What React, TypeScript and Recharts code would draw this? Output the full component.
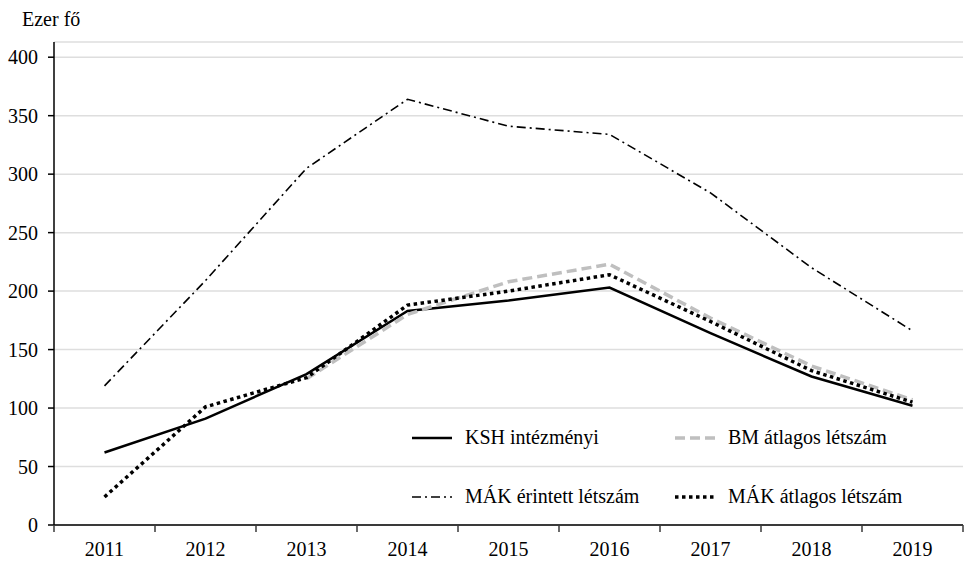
import { LineChart, Line, XAxis, YAxis, CartesianGrid, Legend } from 'recharts';

const years = ['2011', '2012', '2013', '2014', '2015', '2016', '2017', '2018', '2019'];
const kshIntezmenyi = [62, 91, 129, 183, 192, 203, 164, 127, 102];
const bmAtlagos = [null, null, 125, 180, 208, 223, 177, 136, 107];
const makErintett = [119, 209, 305, 364, 341, 334, 284, 220, 166];
const makAtlagos = [24, 101, 126, 188, 200, 214, 174, 132, 105];
const yTicks = [0, 50, 100, 150, 200, 250, 300, 350, 400];

const WIDTH = 969;
const HEIGHT = 561;
const LEFT = 54;
const RIGHT = 6;
const PLOT_W = WIDTH - LEFT - RIGHT;
const HALF_BAND = PLOT_W / years.length / 2;
const FONT = "'Liberation Serif', 'LiberationSerif', 'DejaVu Serif', 'Noto Serif', 'Noto Serif CJK SC', 'Nimbus Roman', 'FreeSerif', serif";

const data = years.map((year, i) => ({
  year,
  ksh: kshIntezmenyi[i],
  bm: bmAtlagos[i],
  erintett: makErintett[i],
  atlagos: makAtlagos[i],
}));

const series = [
  { key: 'ksh', name: 'KSH intézményi', stroke: '#000', width: 2.5, dash: undefined },
  { key: 'bm', name: 'BM átlagos létszám', stroke: '#bfbfbf', width: 3.5, dash: '10 5' },
  { key: 'erintett', name: 'MÁK érintett létszám', stroke: '#000', width: 1.6, dash: '9 4 2 4' },
  { key: 'atlagos', name: 'MÁK átlagos létszám', stroke: '#000', width: 3.5, dash: '3.5 3.5' },
];

function XTick(props: any) {
  const { x, y, payload, index } = props;
  const last = index === years.length - 1;
  return (
    <g>
      <line x1={x - HALF_BAND} x2={x - HALF_BAND} y1={y} y2={y + 7} stroke="#3a3a3a" strokeWidth={1.5} />
      {last && <line x1={x + HALF_BAND} x2={x + HALF_BAND} y1={y} y2={y + 7} stroke="#3a3a3a" strokeWidth={1.5} />}
      <text x={x} y={y + 31} textAnchor="middle" fontSize={20} style={{ fontFamily: FONT }} fill="#000">
        {payload.value}
      </text>
    </g>
  );
}

function LegendBox() {
  const order = ['ksh', 'bm', 'erintett', 'atlagos'];
  return (
    <div style={{ display: 'grid', gridTemplateColumns: '263px 300px', rowGap: 36, fontFamily: FONT, fontSize: 20 }}>
      {order.map((k) => {
        const s = series.find((d) => d.key === k)!;
        return (
          <div key={k} style={{ display: 'flex', alignItems: 'center', height: 23, whiteSpace: 'nowrap' }}>
            <svg width={40} height={10} style={{ marginRight: 13 }}>
              <line x1={0} x2={40} y1={5} y2={5} stroke={s.stroke} strokeWidth={s.width} strokeDasharray={s.dash} />
            </svg>
            <span style={{ color: '#000' }}>{s.name}</span>
          </div>
        );
      })}
    </div>
  );
}

export default function App() {
  return (
    <div style={{ position: 'absolute', left: 0, top: 0, width: WIDTH, height: HEIGHT, background: '#fff', fontFamily: FONT }}>
      <div style={{ position: 'absolute', left: 22, top: 8, fontFamily: FONT, fontSize: 20, color: '#000' }}>Ezer fő</div>
      <LineChart width={WIDTH} height={HEIGHT} data={data} margin={{ top: 42, right: RIGHT, left: 0, bottom: 0 }} style={{ fontFamily: FONT }}>
        <CartesianGrid vertical={false} stroke="#dedede" strokeWidth={1.5} />
        <XAxis
          dataKey="year"
          height={36}
          padding={{ left: HALF_BAND, right: HALF_BAND }}
          tickLine={false}
          tickSize={0}
          tickMargin={0}
          interval={0}
          axisLine={{ stroke: '#3a3a3a', strokeWidth: 2 }}
          tick={<XTick />}
        />
        <YAxis
          width={LEFT}
          domain={[0, 413]}
          ticks={yTicks}
          interval={0}
          tickSize={6}
          tickMargin={10}
          axisLine={{ stroke: '#000', strokeWidth: 1.5 }}
          tickLine={{ stroke: '#000', strokeWidth: 1.5 }}
          tick={{ fill: '#000', fontSize: 20, style: { fontFamily: FONT } }}
        />
        <Legend
          layout="horizontal"
          verticalAlign="middle"
          align="center"
          content={<LegendBox />}
          wrapperStyle={{ left: 412, top: 426, width: 560, height: 90 }}
        />
        {series.map((s) => (
          <Line
            key={s.key}
            dataKey={s.key}
            name={s.name}
            type="linear"
            stroke={s.stroke}
            strokeWidth={s.width}
            strokeDasharray={s.dash}
            dot={false}
            activeDot={false}
            connectNulls={false}
            isAnimationActive={false}
          />
        ))}
      </LineChart>
    </div>
  );
}
